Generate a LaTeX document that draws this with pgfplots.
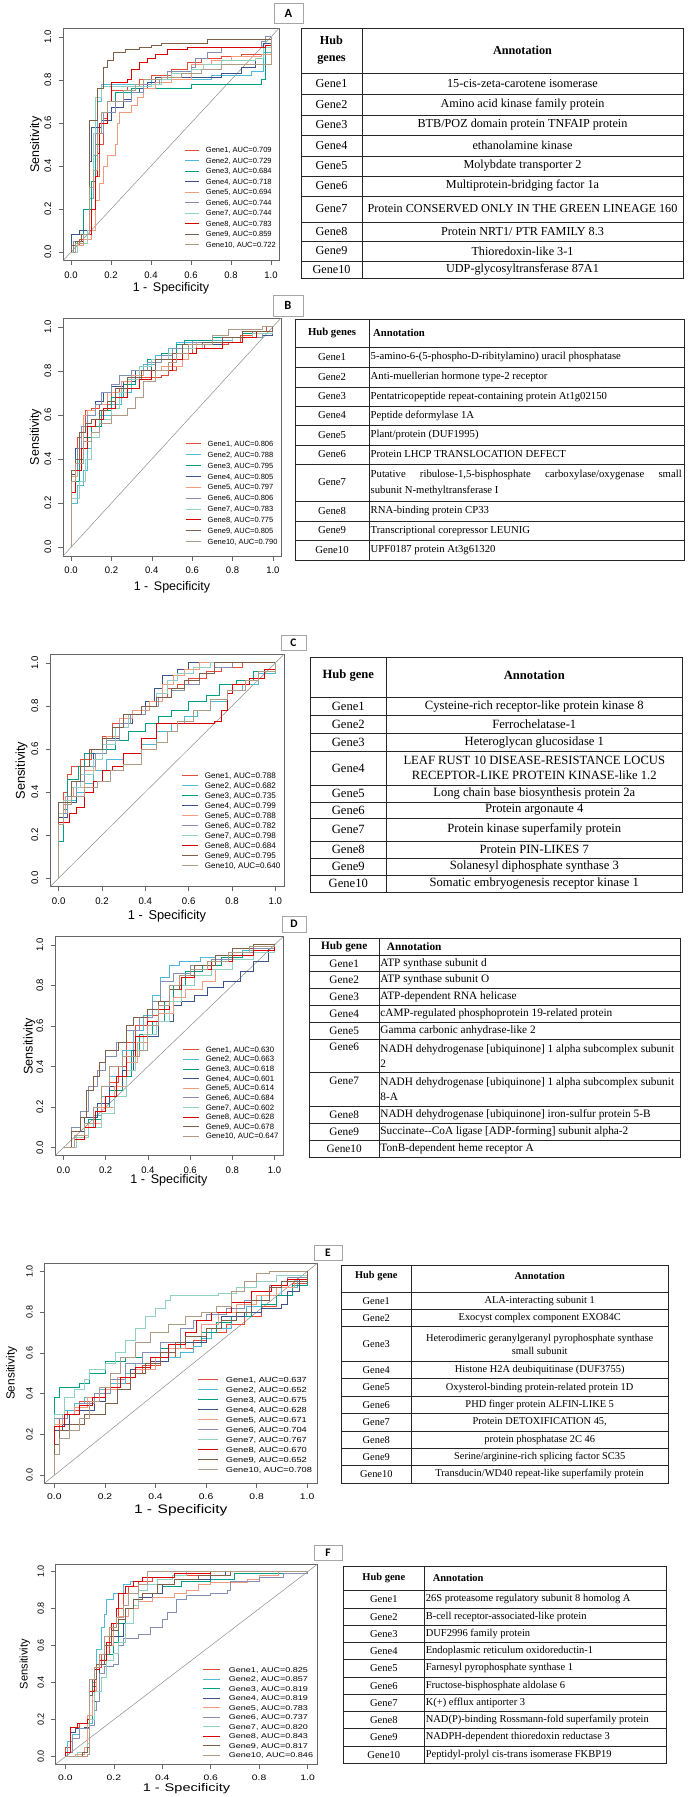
\documentclass[border=0pt]{standalone}
\usepackage{fontspec}
\setmainfont{Liberation Serif}
\newfontfamily\arialf{Liberation Sans}
\newfontfamily\arialE[FakeStretch=1.25]{Liberation Sans}
\newfontfamily\arialF[FakeStretch=1.31]{Liberation Sans}
\newfontfamily\calib{Carlito}
\usepackage{pgfplots}
\pgfplotsset{compat=1.18}
\definecolor{g1}{HTML}{E64B35}
\definecolor{g2}{HTML}{4DBBD5}
\definecolor{g3}{HTML}{00A087}
\definecolor{g4}{HTML}{3C5488}
\definecolor{g5}{HTML}{F39B7F}
\definecolor{g6}{HTML}{8491B4}
\definecolor{g7}{HTML}{91D1C2}
\definecolor{g8}{HTML}{DC0000}
\definecolor{g9}{HTML}{7E6148}
\definecolor{g10}{HTML}{B09C85}
\pgfplotsset{
 rocbase/.style={
  scale only axis, anchor=north west,
  xmin=-0.04, xmax=1.04, ymin=-0.04, ymax=1.04,
  xtick={0,0.2,0.4,0.6,0.8,1}, ytick={0,0.2,0.4,0.6,0.8,1},
  tick align=outside, tick pos=left, major tick length=4.5pt,
  axis line style={black!60, line width=0.7pt},
  tick style={black!60, line width=0.6pt},
  /pgf/number format/fixed, /pgf/number format/fixed zerofill,
  /pgf/number format/precision=1, /pgf/number format/assume math mode=true,
  xticklabel={\pgfmathprintnumber{\tick}}, yticklabel={\pgfmathprintnumber{\tick}},
  tick label style={inner sep=0pt},
  y tick label style={rotate=90},
  xticklabel shift=6pt, yticklabel shift=7pt,
  xlabel={1 -\hspace{0.45em}Specificity}, ylabel={Sensitivity},
  legend cell align=left,
  every axis plot/.append style={line width=0.9pt, const plot},
 },
 labpos/.style 2 args={ylabel style={at={(axis description cs:#1,0.5)}, anchor=center},
   xlabel style={at={(axis description cs:0.5,#2)}, anchor=center}},
 leg/.style n args={7}{
   legend style={at={(axis description cs:#2,#3)}, anchor=north west, draw=none, fill=none,
     inner sep=0pt, outer sep=0pt, row sep=#4pt, column sep=#6pt,
     font=#7\fontsize{#1}{#1}\selectfont,
     nodes={inner sep=0pt, text height=0.72em, text depth=0.2em}},
   legend image code/.code={\draw[##1] (0pt,0pt) -- (#5pt,0pt);},
 },
}
\tikzset{tbl/.style={draw=black!85, line width=0.8pt},
  labbox/.style={draw=black!35, line width=1pt, fill=white, inner sep=0pt}}
\newcommand\trow[4]{\node[cellA] at (\ca,{(#1+#2)/2}) {#3};\node[cellB] at (\cb,{(#1+#2)/2}) {#4};}
\newcommand\diag{\addplot[black!45, line width=0.5pt, sharp plot, forget plot] coordinates {(-0.04,-0.04) (1.04,1.04)};}
\begin{document}
\begin{tikzpicture}[x=1pt,y=-1pt]
\path[use as bounding box] (0,0) rectangle (688,1797);

% ================= PANEL A =================
\begin{axis}[rocbase, at={(63pt,-28.3pt)}, width=216pt, height=232.4pt,
  tick label style={font=\arialf\fontsize{9.5}{10}\selectfont},
  label style={font=\arialf\fontsize{12.5}{14}\selectfont},
  labpos={-0.125}{-0.1175},
  leg={7.5}{0.565}{0.4955}{1.3}{14}{6}{\arialf}]
\diag
\addplot[g1] coordinates {(0,0)(0.01,0.03)(0.04,0.06)(0.08,0.1)(0.1,0.2)(0.12,0.35)(0.14,0.5)(0.16,0.62)(0.18,0.7)(0.2,0.75)(0.28,0.77)(0.34,0.8)(0.4,0.82)(0.5,0.85)(0.58,0.88)(0.65,0.9)(0.75,0.91)(0.85,0.92)(0.97,0.95)(1,1)};
\addlegendentry{Gene1, AUC=0.709}
\addplot[g2] coordinates {(0,0)(0,0.08)(0.06,0.1)(0.09,0.25)(0.11,0.45)(0.13,0.7)(0.15,0.78)(0.4,0.8)(0.7,0.82)(0.9,0.84)(0.96,0.93)(1,1)};
\addlegendentry{Gene2, AUC=0.729}
\addplot[g3] coordinates {(0,0)(0.03,0.05)(0.06,0.2)(0.1,0.33)(0.12,0.5)(0.14,0.6)(0.18,0.7)(0.22,0.74)(0.3,0.76)(0.6,0.78)(0.95,0.8)(0.97,0.95)(1,1)};
\addlegendentry{Gene3, AUC=0.684}
\addplot[g4] coordinates {(0,0)(0,0.08)(0.04,0.1)(0.09,0.42)(0.1,0.58)(0.15,0.61)(0.2,0.67)(0.26,0.71)(0.3,0.74)(0.34,0.76)(0.38,0.79)(0.42,0.81)(0.75,0.83)(0.85,0.86)(0.92,0.9)(0.96,0.97)(1,1)};
\addlegendentry{Gene4, AUC=0.718}
\addplot[g5] coordinates {(0,0)(0.02,0.03)(0.06,0.06)(0.1,0.1)(0.12,0.24)(0.14,0.32)(0.16,0.4)(0.18,0.45)(0.22,0.5)(0.23,0.6)(0.24,0.65)(0.3,0.68)(0.33,0.72)(0.36,0.76)(0.42,0.79)(0.5,0.8)(0.6,0.87)(0.7,0.89)(0.8,0.91)(0.95,0.92)(1,1)};
\addlegendentry{Gene5, AUC=0.694}
\addplot[g6] coordinates {(0,0)(0.01,0.05)(0.05,0.08)(0.09,0.3)(0.11,0.45)(0.12,0.55)(0.16,0.65)(0.22,0.7)(0.3,0.74)(0.36,0.78)(0.44,0.8)(0.48,0.84)(0.6,0.86)(0.62,0.9)(0.68,0.93)(0.75,0.95)(0.95,0.98)(0.97,1)(1,1)};
\addlegendentry{Gene6, AUC=0.744}
\addplot[g7] coordinates {(0,0)(0.03,0.04)(0.08,0.1)(0.09,0.3)(0.11,0.55)(0.12,0.72)(0.15,0.77)(0.4,0.78)(0.45,0.8)(0.5,0.83)(0.6,0.85)(0.66,0.87)(0.75,0.89)(0.92,0.9)(0.96,0.95)(1,1)};
\addlegendentry{Gene7, AUC=0.744}
\addplot[g8] coordinates {(0,0)(0.02,0.05)(0.06,0.08)(0.1,0.2)(0.12,0.35)(0.13,0.46)(0.14,0.6)(0.18,0.7)(0.2,0.79)(0.28,0.8)(0.3,0.85)(0.34,0.88)(0.38,0.9)(0.42,0.92)(0.48,0.94)(0.58,0.95)(0.97,0.96)(1,1)};
\addlegendentry{Gene8, AUC=0.783}
\addplot[g9] coordinates {(0,0)(0,0.03)(0.02,0.05)(0.05,0.08)(0.09,0.61)(0.13,0.76)(0.16,0.86)(0.18,0.89)(0.21,0.93)(0.27,0.94)(0.34,0.95)(0.4,0.96)(0.45,0.97)(0.68,0.99)(1,1)};
\addlegendentry{Gene9, AUC=0.859}
\addplot[g10] coordinates {(0,0)(0.02,0.04)(0.06,0.08)(0.09,0.3)(0.11,0.38)(0.13,0.55)(0.15,0.65)(0.18,0.7)(0.26,0.75)(0.32,0.78)(0.36,0.8)(0.45,0.81)(0.55,0.83)(0.65,0.85)(0.75,0.87)(0.99,0.87)(1,1)};
\addlegendentry{Gene10, AUC=0.722}
\end{axis}

% ================= PANEL B =================
\begin{axis}[rocbase, at={(63pt,-318pt)}, width=218pt, height=238pt,
  tick label style={font=\arialf\fontsize{9.5}{10}\selectfont},
  label style={font=\arialf\fontsize{12.5}{14}\selectfont},
  labpos={-0.125}{-0.130},
  leg={7.5}{0.560}{0.4905}{1.66}{15}{6.7}{\arialf}]
\diag
\addplot[g1] coordinates {(0,0)(0,0.3)(0.02,0.38)(0.03,0.5)(0.05,0.55)(0.07,0.62)(0.1,0.63)(0.14,0.65)(0.2,0.7)(0.24,0.72)(0.28,0.76)(0.35,0.77)(0.45,0.78)(0.48,0.8)(0.52,0.82)(0.55,0.88)(0.6,0.9)(0.66,0.92)(0.78,0.93)(0.84,0.96)(0.9,0.98)(0.97,1)(1,1)};
\addlegendentry{Gene1, AUC=0.806}
\addplot[g2] coordinates {(0,0)(0,0.2)(0.03,0.28)(0.06,0.35)(0.08,0.45)(0.1,0.52)(0.14,0.6)(0.2,0.65)(0.25,0.7)(0.3,0.78)(0.36,0.83)(0.42,0.87)(0.48,0.9)(0.52,0.93)(0.6,0.94)(0.8,0.95)(0.92,0.97)(1,1)};
\addlegendentry{Gene2, AUC=0.788}
\addplot[g3] coordinates {(0,0)(0,0.3)(0.04,0.4)(0.06,0.5)(0.1,0.55)(0.15,0.62)(0.2,0.68)(0.26,0.74)(0.32,0.8)(0.38,0.85)(0.45,0.88)(0.52,0.92)(0.56,0.94)(0.7,0.95)(0.85,0.97)(1,1)};
\addlegendentry{Gene3, AUC=0.795}
\addplot[g4] coordinates {(0,0)(0,0.33)(0.02,0.45)(0.05,0.55)(0.08,0.6)(0.12,0.66)(0.16,0.7)(0.2,0.73)(0.26,0.75)(0.32,0.8)(0.4,0.85)(0.48,0.88)(0.55,0.9)(0.62,0.92)(0.75,0.93)(0.85,0.95)(0.95,0.96)(1,1)};
\addlegendentry{Gene4, AUC=0.805}
\addplot[g5] coordinates {(0,0)(0,0.32)(0.03,0.45)(0.06,0.6)(0.08,0.62)(0.12,0.65)(0.18,0.7)(0.25,0.75)(0.3,0.78)(0.36,0.8)(0.45,0.82)(0.55,0.85)(0.58,0.88)(0.62,0.93)(0.75,0.95)(0.9,0.97)(1,1)};
\addlegendentry{Gene5, AUC=0.797}
\addplot[g6] coordinates {(0,0)(0,0.35)(0.03,0.45)(0.05,0.55)(0.08,0.6)(0.12,0.65)(0.15,0.7)(0.2,0.74)(0.24,0.78)(0.3,0.8)(0.38,0.84)(0.45,0.87)(0.5,0.9)(0.6,0.93)(0.8,0.95)(0.95,0.97)(1,1)};
\addlegendentry{Gene6, AUC=0.806}
\addplot[g7] coordinates {(0,0)(0,0.22)(0.04,0.3)(0.07,0.4)(0.1,0.5)(0.14,0.58)(0.2,0.63)(0.24,0.7)(0.28,0.76)(0.34,0.82)(0.4,0.85)(0.48,0.88)(0.55,0.9)(0.65,0.93)(0.8,0.95)(0.9,0.97)(1,1)};
\addlegendentry{Gene7, AUC=0.783}
\addplot[g8] coordinates {(0,0)(0,0.25)(0.02,0.35)(0.05,0.45)(0.08,0.55)(0.12,0.58)(0.16,0.63)(0.22,0.68)(0.28,0.72)(0.34,0.76)(0.4,0.8)(0.5,0.85)(0.55,0.88)(0.62,0.9)(0.75,0.93)(0.85,0.95)(0.92,0.98)(1,1)};
\addlegendentry{Gene8, AUC=0.775}
\addplot[g9] coordinates {(0,0)(0,0.35)(0.02,0.4)(0.04,0.52)(0.07,0.56)(0.1,0.58)(0.14,0.62)(0.18,0.66)(0.22,0.72)(0.28,0.77)(0.35,0.8)(0.42,0.85)(0.5,0.88)(0.55,0.92)(0.65,0.93)(0.75,0.95)(0.85,0.98)(1,1)};
\addlegendentry{Gene9, AUC=0.805}
\addplot[g10] coordinates {(0,0)(0,0.3)(0.02,0.38)(0.06,0.48)(0.1,0.52)(0.14,0.56)(0.2,0.6)(0.28,0.63)(0.32,0.68)(0.36,0.75)(0.42,0.8)(0.48,0.84)(0.52,0.88)(0.58,0.92)(0.7,0.96)(0.78,0.99)(0.95,1)(1,1)};
\addlegendentry{Gene10, AUC=0.790}
\end{axis}

% ================= PANEL C =================
\begin{axis}[rocbase, at={(50pt,-654.3pt)}, width=234pt, height=232.4pt,
  tick label style={font=\arialf\fontsize{9.6}{10}\selectfont},
  label style={font=\arialf\fontsize{12.8}{14}\selectfont},
  labpos={-0.122}{-0.125},
  leg={8.1}{0.564}{0.4967}{0.75}{16}{6}{\arialf}]
\diag
\addplot[g1] coordinates {(0,0)(0,0.3)(0.02,0.4)(0.04,0.48)(0.06,0.52)(0.1,0.55)(0.15,0.6)(0.2,0.66)(0.25,0.72)(0.3,0.76)(0.38,0.8)(0.45,0.84)(0.5,0.88)(0.55,0.9)(0.6,0.93)(0.68,0.96)(0.75,0.98)(0.85,1)(1,1)};
\addlegendentry{Gene1, AUC=0.788}
\addplot[g2] coordinates {(0,0)(0,0.3)(0.04,0.36)(0.08,0.4)(0.12,0.44)(0.16,0.5)(0.22,0.55)(0.3,0.58)(0.38,0.62)(0.45,0.68)(0.52,0.72)(0.58,0.75)(0.64,0.78)(0.7,0.82)(0.78,0.87)(0.85,0.9)(0.92,0.95)(1,1)};
\addlegendentry{Gene2, AUC=0.682}
\addplot[g3] coordinates {(0,0)(0,0.17)(0.02,0.32)(0.04,0.46)(0.09,0.52)(0.12,0.58)(0.2,0.6)(0.26,0.64)(0.32,0.68)(0.4,0.72)(0.46,0.75)(0.52,0.78)(0.6,0.82)(0.68,0.85)(0.74,0.9)(0.82,0.92)(0.9,0.96)(1,1)};
\addlegendentry{Gene3, AUC=0.735}
\addplot[g4] coordinates {(0,0)(0,0.28)(0.04,0.35)(0.08,0.42)(0.12,0.5)(0.16,0.58)(0.22,0.65)(0.28,0.72)(0.34,0.78)(0.4,0.82)(0.44,0.88)(0.48,0.94)(0.55,0.97)(0.6,1)(1,1)};
\addlegendentry{Gene4, AUC=0.799}
\addplot[g5] coordinates {(0,0)(0,0.3)(0.03,0.38)(0.07,0.42)(0.12,0.5)(0.17,0.58)(0.22,0.66)(0.28,0.74)(0.34,0.78)(0.42,0.82)(0.48,0.9)(0.53,0.94)(0.58,0.97)(0.65,1)(1,1)};
\addlegendentry{Gene5, AUC=0.788}
\addplot[g6] coordinates {(0,0)(0,0.3)(0.04,0.38)(0.08,0.45)(0.12,0.52)(0.17,0.58)(0.22,0.64)(0.28,0.72)(0.33,0.76)(0.4,0.8)(0.46,0.84)(0.52,0.87)(0.58,0.9)(0.65,0.95)(0.72,0.98)(0.8,1)(1,1)};
\addlegendentry{Gene6, AUC=0.782}
\addplot[g7] coordinates {(0,0)(0,0.3)(0.02,0.36)(0.06,0.42)(0.1,0.48)(0.16,0.55)(0.2,0.62)(0.26,0.7)(0.32,0.76)(0.38,0.8)(0.45,0.86)(0.5,0.92)(0.55,0.95)(0.62,0.98)(0.7,1)(1,1)};
\addlegendentry{Gene7, AUC=0.798}
\addplot[g8] coordinates {(0,0)(0,0.26)(0.05,0.3)(0.08,0.33)(0.12,0.4)(0.16,0.45)(0.2,0.5)(0.25,0.52)(0.3,0.58)(0.38,0.65)(0.45,0.72)(0.72,0.73)(0.75,0.78)(0.78,0.86)(0.8,0.9)(0.88,0.93)(0.95,0.97)(1,1)};
\addlegendentry{Gene8, AUC=0.684}
\addplot[g9] coordinates {(0,0)(0,0.35)(0.06,0.45)(0.1,0.52)(0.14,0.6)(0.2,0.65)(0.25,0.7)(0.3,0.76)(0.38,0.8)(0.45,0.84)(0.52,0.88)(0.58,0.92)(0.65,0.95)(0.72,1)(1,1)};
\addlegendentry{Gene9, AUC=0.795}
\addplot[g10] coordinates {(0,0)(0,0.25)(0.02,0.34)(0.06,0.38)(0.12,0.42)(0.18,0.45)(0.24,0.5)(0.3,0.53)(0.38,0.6)(0.45,0.63)(0.5,0.68)(0.55,0.73)(0.62,0.78)(0.7,0.83)(0.78,0.87)(0.86,0.92)(0.92,0.96)(1,1)};
\addlegendentry{Gene10, AUC=0.640}
\end{axis}

% ================= PANEL D =================
\begin{axis}[rocbase, at={(55pt,-936.7pt)}, width=228pt, height=219pt,
  tick label style={font=\arialf\fontsize{9.5}{10}\selectfont},
  label style={font=\arialf\fontsize{12.6}{14}\selectfont},
  labpos={-0.112}{-0.114},
  leg={7.8}{0.561}{0.505}{0.42}{16}{6}{\arialf}]
\diag
\addplot[g1] coordinates {(0,0)(0.05,0.05)(0.1,0.12)(0.14,0.2)(0.18,0.25)(0.22,0.32)(0.26,0.4)(0.3,0.52)(0.34,0.6)(0.4,0.65)(0.45,0.72)(0.5,0.8)(0.55,0.85)(0.62,0.9)(0.7,0.93)(0.8,0.95)(0.9,0.97)(1,1)};
\addlegendentry{Gene1, AUC=0.630}
\addplot[g2] coordinates {(0,0)(0.05,0.05)(0.1,0.1)(0.14,0.16)(0.18,0.25)(0.22,0.35)(0.28,0.48)(0.33,0.58)(0.38,0.65)(0.42,0.75)(0.46,0.84)(0.5,0.9)(0.55,0.92)(0.65,0.94)(0.72,0.95)(0.85,0.97)(1,1)};
\addlegendentry{Gene2, AUC=0.663}
\addplot[g3] coordinates {(0,0)(0.06,0.06)(0.12,0.14)(0.18,0.2)(0.22,0.28)(0.28,0.35)(0.32,0.48)(0.36,0.56)(0.42,0.62)(0.48,0.72)(0.52,0.8)(0.58,0.87)(0.66,0.9)(0.75,0.94)(0.85,0.96)(1,1)};
\addlegendentry{Gene3, AUC=0.618}
\addplot[g4] coordinates {(0,0)(0.04,0.08)(0.1,0.15)(0.16,0.22)(0.22,0.3)(0.28,0.38)(0.33,0.48)(0.38,0.55)(0.45,0.62)(0.52,0.7)(0.56,0.72)(0.62,0.75)(0.68,0.79)(0.76,0.82)(0.84,0.87)(0.9,0.92)(0.97,0.98)(1,1)};
\addlegendentry{Gene4, AUC=0.601}
\addplot[g5] coordinates {(0,0)(0.06,0.06)(0.12,0.12)(0.18,0.2)(0.24,0.3)(0.3,0.42)(0.35,0.52)(0.4,0.6)(0.45,0.66)(0.52,0.74)(0.58,0.78)(0.66,0.82)(0.72,0.88)(0.8,0.93)(0.9,0.96)(1,1)};
\addlegendentry{Gene5, AUC=0.614}
\addplot[g6] coordinates {(0,0)(0.04,0.1)(0.08,0.18)(0.12,0.3)(0.16,0.38)(0.2,0.45)(0.25,0.52)(0.3,0.58)(0.36,0.64)(0.42,0.72)(0.46,0.82)(0.52,0.86)(0.6,0.9)(0.7,0.93)(0.8,0.96)(0.9,0.98)(1,1)};
\addlegendentry{Gene6, AUC=0.684}
\addplot[g7] coordinates {(0,0)(0.06,0.05)(0.12,0.1)(0.18,0.17)(0.24,0.25)(0.3,0.38)(0.34,0.48)(0.38,0.56)(0.44,0.62)(0.5,0.72)(0.56,0.8)(0.62,0.85)(0.7,0.88)(0.8,0.93)(0.9,0.96)(1,1)};
\addlegendentry{Gene7, AUC=0.602}
\addplot[g8] coordinates {(0,0)(0.05,0.04)(0.1,0.1)(0.15,0.18)(0.2,0.25)(0.25,0.35)(0.3,0.45)(0.34,0.55)(0.4,0.62)(0.45,0.68)(0.5,0.78)(0.56,0.84)(0.62,0.88)(0.7,0.92)(0.8,0.95)(0.9,0.97)(1,1)};
\addlegendentry{Gene8, AUC=0.628}
\addplot[g9] coordinates {(0,0)(0.04,0.08)(0.08,0.15)(0.11,0.28)(0.14,0.35)(0.17,0.42)(0.2,0.48)(0.26,0.52)(0.3,0.6)(0.33,0.64)(0.4,0.68)(0.45,0.72)(0.5,0.78)(0.55,0.85)(0.62,0.9)(0.72,0.95)(0.8,0.98)(0.9,1)(1,1)};
\addlegendentry{Gene9, AUC=0.678}
\addplot[g10] coordinates {(0,0)(0.05,0.06)(0.1,0.12)(0.14,0.2)(0.18,0.3)(0.22,0.4)(0.28,0.45)(0.36,0.48)(0.4,0.6)(0.45,0.7)(0.5,0.8)(0.55,0.85)(0.6,0.88)(0.68,0.92)(0.78,0.96)(0.88,0.99)(1,1)};
\addlegendentry{Gene10, AUC=0.647}
\end{axis}

% ================= PANEL E =================
\begin{axis}[rocbase, at={(44.3pt,-1263.3pt)}, width=273pt, height=220pt,
  x tick label style={font=\arialE\fontsize{8.3}{10}\selectfont},
  y tick label style={font=\arialf\fontsize{9}{10}\selectfont},
  xlabel style={font=\arialE\fontsize{12.4}{14}\selectfont},
  ylabel style={font=\arialf\fontsize{11.8}{14}\selectfont},
  labpos={-0.12}{-0.1245},
  leg={7.4}{0.563}{0.4927}{0.79}{20}{7}{\arialE}]
\diag
\addplot[g1] coordinates {(0,0)(0,0.22)(0.02,0.28)(0.05,0.32)(0.1,0.36)(0.15,0.38)(0.2,0.42)(0.25,0.45)(0.3,0.5)(0.35,0.54)(0.42,0.58)(0.48,0.62)(0.55,0.66)(0.6,0.7)(0.68,0.74)(0.75,0.78)(0.82,0.83)(0.88,0.88)(0.94,0.94)(1,1)};
\addlegendentry{Gene1, AUC=0.637}
\addplot[g2] coordinates {(0,0)(0,0.3)(0.04,0.32)(0.08,0.35)(0.12,0.38)(0.18,0.42)(0.22,0.45)(0.28,0.5)(0.32,0.55)(0.4,0.58)(0.5,0.6)(0.55,0.63)(0.58,0.67)(0.62,0.72)(0.7,0.78)(0.76,0.83)(0.82,0.88)(0.9,0.92)(0.96,0.97)(1,1)};
\addlegendentry{Gene2, AUC=0.652}
\addplot[g3] coordinates {(0,0)(0,0.38)(0.02,0.43)(0.1,0.45)(0.14,0.5)(0.2,0.56)(0.28,0.58)(0.35,0.6)(0.42,0.62)(0.5,0.65)(0.58,0.7)(0.64,0.75)(0.7,0.78)(0.78,0.8)(0.82,0.84)(0.88,0.88)(0.94,0.93)(1,1)};
\addlegendentry{Gene3, AUC=0.675}
\addplot[g4] coordinates {(0,0)(0,0.22)(0.03,0.25)(0.06,0.3)(0.1,0.32)(0.16,0.36)(0.2,0.42)(0.25,0.48)(0.3,0.52)(0.38,0.56)(0.45,0.62)(0.52,0.65)(0.6,0.72)(0.66,0.78)(0.75,0.8)(0.82,0.82)(0.9,0.84)(0.92,0.9)(0.97,0.96)(1,1)};
\addlegendentry{Gene4, AUC=0.628}
\addplot[g5] coordinates {(0,0)(0,0.25)(0.03,0.3)(0.08,0.33)(0.13,0.38)(0.2,0.42)(0.25,0.48)(0.32,0.52)(0.4,0.58)(0.45,0.62)(0.52,0.68)(0.58,0.74)(0.65,0.8)(0.72,0.84)(0.8,0.88)(0.88,0.92)(0.95,0.96)(1,1)};
\addlegendentry{Gene5, AUC=0.671}
\addplot[g6] coordinates {(0,0)(0,0.28)(0.05,0.3)(0.1,0.35)(0.16,0.4)(0.22,0.47)(0.28,0.55)(0.35,0.6)(0.42,0.65)(0.5,0.72)(0.55,0.76)(0.6,0.79)(0.68,0.82)(0.75,0.86)(0.85,0.93)(0.92,0.97)(1,1)};
\addlegendentry{Gene6, AUC=0.704}
\addplot[g7] coordinates {(0,0)(0,0.3)(0.04,0.38)(0.08,0.42)(0.12,0.47)(0.14,0.52)(0.2,0.55)(0.24,0.6)(0.28,0.66)(0.32,0.72)(0.36,0.78)(0.4,0.82)(0.44,0.86)(0.46,0.88)(0.65,0.89)(0.72,0.92)(0.8,0.95)(0.88,0.98)(1,1)};
\addlegendentry{Gene7, AUC=0.767}
\addplot[g8] coordinates {(0,0)(0,0.24)(0.04,0.3)(0.1,0.34)(0.15,0.38)(0.2,0.43)(0.26,0.48)(0.32,0.53)(0.38,0.58)(0.45,0.64)(0.52,0.7)(0.56,0.76)(0.62,0.8)(0.7,0.85)(0.78,0.9)(0.86,0.93)(0.92,0.96)(1,1)};
\addlegendentry{Gene8, AUC=0.670}
\addplot[g9] coordinates {(0,0)(0,0.15)(0.02,0.22)(0.06,0.25)(0.12,0.3)(0.2,0.35)(0.25,0.42)(0.3,0.5)(0.36,0.55)(0.42,0.6)(0.48,0.65)(0.52,0.68)(0.6,0.72)(0.66,0.76)(0.72,0.8)(0.78,0.86)(0.85,0.92)(0.9,0.95)(1,1)};
\addlegendentry{Gene9, AUC=0.652}
\addplot[g10] coordinates {(0,0)(0,0.1)(0.02,0.18)(0.06,0.22)(0.1,0.28)(0.14,0.36)(0.18,0.43)(0.22,0.5)(0.26,0.58)(0.32,0.65)(0.38,0.7)(0.45,0.74)(0.52,0.78)(0.58,0.8)(0.64,0.83)(0.7,0.9)(0.75,0.95)(0.8,0.99)(0.85,1)(1,1)};
\addlegendentry{Gene10, AUC=0.708}
\end{axis}

% ================= PANEL F =================
\begin{axis}[rocbase, at={(55.7pt,-1564.3pt)}, width=261.6pt, height=199.7pt,
  x tick label style={font=\arialF\fontsize{7.9}{10}\selectfont},
  y tick label style={font=\arialf\fontsize{9}{10}\selectfont},
  xlabel style={font=\arialF\fontsize{11.1}{14}\selectfont},
  ylabel style={font=\arialf\fontsize{11.1}{14}\selectfont},
  labpos={-0.118}{-0.1217},
  leg={6.9}{0.563}{0.4952}{0.28}{17}{8}{\arialF}]
\diag
\addplot[g1] coordinates {(0,0)(0,0.05)(0.02,0.16)(0.06,0.18)(0.1,0.22)(0.11,0.4)(0.13,0.48)(0.15,0.55)(0.18,0.65)(0.2,0.72)(0.22,0.8)(0.24,0.88)(0.26,0.92)(0.3,0.95)(0.36,0.97)(0.45,0.98)(0.6,1)(1,1)};
\addlegendentry{Gene1, AUC=0.825}
\addplot[g2] coordinates {(0,0)(0.01,0.08)(0.03,0.12)(0.06,0.15)(0.09,0.18)(0.11,0.4)(0.13,0.58)(0.15,0.7)(0.16,0.77)(0.17,0.85)(0.2,0.88)(0.24,0.93)(0.27,0.95)(0.32,0.97)(0.44,0.98)(0.5,1)(1,1)};
\addlegendentry{Gene2, AUC=0.857}
\addplot[g3] coordinates {(0,0)(0.05,0.02)(0.08,0.05)(0.09,0.2)(0.11,0.38)(0.13,0.5)(0.17,0.55)(0.2,0.62)(0.22,0.72)(0.25,0.8)(0.28,0.85)(0.32,0.88)(0.4,0.92)(0.48,0.95)(0.6,0.96)(0.7,0.99)(1,1)};
\addlegendentry{Gene3, AUC=0.819}
\addplot[g4] coordinates {(0,0)(0,0.02)(0.02,0.13)(0.04,0.15)(0.08,0.16)(0.1,0.2)(0.12,0.3)(0.14,0.5)(0.16,0.6)(0.2,0.65)(0.24,0.72)(0.28,0.8)(0.3,0.86)(0.36,0.88)(0.4,0.93)(0.45,0.96)(0.6,0.98)(0.66,1)(1,1)};
\addlegendentry{Gene4, AUC=0.819}
\addplot[g5] coordinates {(0,0)(0.04,0.01)(0.08,0.05)(0.09,0.22)(0.11,0.36)(0.13,0.5)(0.16,0.6)(0.2,0.68)(0.22,0.76)(0.26,0.8)(0.3,0.84)(0.36,0.86)(0.45,0.88)(0.5,0.9)(0.55,0.93)(0.6,0.94)(0.75,0.96)(0.8,0.98)(0.88,1)(1,1)};
\addlegendentry{Gene5, AUC=0.783}
\addplot[g6] coordinates {(0,0)(0.01,0.02)(0.03,0.1)(0.06,0.15)(0.1,0.17)(0.12,0.25)(0.13,0.3)(0.14,0.45)(0.16,0.49)(0.2,0.5)(0.22,0.6)(0.24,0.64)(0.3,0.66)(0.35,0.7)(0.4,0.74)(0.42,0.78)(0.46,0.85)(0.5,0.87)(0.6,0.88)(0.67,0.9)(0.68,0.95)(0.8,0.97)(0.9,0.99)(1,1)};
\addlegendentry{Gene6, AUC=0.737}
\addplot[g7] coordinates {(0,0)(0.05,0.02)(0.09,0.07)(0.1,0.2)(0.12,0.35)(0.15,0.43)(0.17,0.52)(0.2,0.56)(0.22,0.62)(0.25,0.72)(0.28,0.82)(0.3,0.9)(0.34,0.93)(0.38,0.96)(0.44,0.98)(0.5,1)(1,1)};
\addlegendentry{Gene7, AUC=0.820}
\addplot[g8] coordinates {(0,0)(0,0.02)(0.02,0.16)(0.05,0.18)(0.09,0.2)(0.1,0.35)(0.12,0.47)(0.14,0.52)(0.17,0.62)(0.19,0.72)(0.21,0.8)(0.22,0.88)(0.25,0.92)(0.28,0.95)(0.32,0.97)(0.45,0.99)(0.6,1)(1,1)};
\addlegendentry{Gene8, AUC=0.843}
\addplot[g9] coordinates {(0,0)(0.07,0.02)(0.09,0.05)(0.1,0.33)(0.11,0.42)(0.13,0.5)(0.16,0.6)(0.19,0.68)(0.22,0.74)(0.25,0.8)(0.28,0.85)(0.32,0.88)(0.38,0.93)(0.45,0.96)(0.55,0.98)(0.68,1)(1,1)};
\addlegendentry{Gene9, AUC=0.817}
\addplot[g10] coordinates {(0,0)(0.09,0.01)(0.1,0.42)(0.12,0.48)(0.14,0.55)(0.16,0.65)(0.18,0.7)(0.21,0.75)(0.24,0.82)(0.26,0.88)(0.3,0.93)(0.34,1)(1,1)};
\addlegendentry{Gene10, AUC=0.846}
\end{axis}

% ================= LABEL BOXES =================
\node[labbox, minimum width=29pt, minimum height=20pt, font=\calib\bfseries\fontsize{12.5}{13}\selectfont] at (288.5,13) {A};
\node[labbox, minimum width=30pt, minimum height=21pt, font=\calib\bfseries\fontsize{12.5}{13}\selectfont] at (288,305.5) {B};
\node[labbox, minimum width=25pt, minimum height=15pt, font=\calib\bfseries\fontsize{11.5}{12}\selectfont] at (293.5,642.5) {C};
\node[labbox, minimum width=24pt, minimum height=16pt, font=\calib\bfseries\fontsize{11.5}{12}\selectfont] at (294,924) {D};
\node[labbox, minimum width=28pt, minimum height=15pt, font=\calib\bfseries\fontsize{11.5}{12}\selectfont] at (328,1252.5) {E};
\node[labbox, minimum width=28pt, minimum height=15pt, font=\calib\bfseries\fontsize{11.5}{12}\selectfont] at (328,1552.5) {F};

% ================= TABLE A =================
\def\ca{331.5}\def\cb{522.5}
\tikzset{cellA/.style={font=\fontsize{12.2}{17}\selectfont, inner sep=0pt, align=center},
         cellB/.style={font=\fontsize{12.2}{17}\selectfont, inner sep=0pt, align=center}}
\draw[tbl] (301,28) rectangle (683,278);
\draw[tbl] (362,28) -- (362,278);
\foreach \y in {73,94,115,135,156,176,196,222,241,261} \draw[tbl] (301,\y) -- (683,\y);
\trow{28}{73}{\textbf{Hub}\\\textbf{genes}}{\textbf{Annotation}}
\trow{73}{94}{Gene1}{15-cis-zeta-carotene isomerase}
\trow{94}{115}{Gene2}{Amino acid kinase family protein}
\trow{115}{135}{Gene3}{BTB/POZ domain protein TNFAIP protein}
\trow{135}{156}{Gene4}{ethanolamine kinase}
\trow{156}{176}{Gene5}{Molybdate transporter 2}
\trow{176}{196}{Gene6}{Multiprotein-bridging factor 1a}
\trow{196}{222}{Gene7}{Protein CONSERVED ONLY IN THE GREEN LINEAGE 160}
\trow{222}{241}{Gene8}{Protein NRT1/ PTR FAMILY 8.3}
\trow{241}{261}{Gene9}{Thioredoxin-like 3-1}
\trow{261}{278}{Gene10}{UDP-glycosyltransferase 87A1}

% ================= TABLE B =================
\def\ca{332}\def\cb{370.5}
\tikzset{cellA/.style={font=\fontsize{10.7}{16}\selectfont, inner sep=0pt, align=center},
         cellB/.style={font=\fontsize{10.7}{16}\selectfont, inner sep=0pt, align=left, anchor=west}}
\draw[tbl] (295,319) rectangle (684,560);
\draw[tbl] (369,319) -- (369,560);
\foreach \y in {347,367,387,406,425,445,464,501,521,540} \draw[tbl] (295,\y) -- (684,\y);
\trow{319}{347}{\textbf{Hub genes}}{\hspace*{2.5pt}\textbf{Annotation}}
\trow{347}{367}{Gene1}{5-amino-6-(5-phospho-D-ribitylamino) uracil phosphatase}
\trow{367}{387}{Gene2}{Anti-muellerian hormone type-2 receptor}
\trow{387}{406}{Gene3}{Pentatricopeptide repeat-containing protein At1g02150}
\trow{406}{425}{Gene4}{Peptide deformylase 1A}
\trow{425}{445}{Gene5}{Plant/protein (DUF1995)}
\trow{445}{464}{Gene6}{Protein LHCP TRANSLOCATION DEFECT}
\trow{464}{501}{Gene7}{\hbox to 311pt{Putative\hfill ribulose-1,5-bisphosphate\hfill carboxylase/oxygenase\hfill small}\\subunit N-methyltransferase I}
\trow{501}{521}{Gene8}{RNA-binding protein CP33}
\trow{521}{540}{Gene9}{Transcriptional corepressor LEUNIG}
\trow{540}{560}{Gene10}{UPF0187 protein At3g61320}

% ================= TABLE C =================
\def\ca{348.3}\def\cb{534.3}
\tikzset{cellA/.style={font=\fontsize{12.6}{14.5}\selectfont, inner sep=0pt, align=center},
         cellB/.style={font=\fontsize{12.6}{14.5}\selectfont, inner sep=0pt, align=center}}
\draw[tbl] (310,657) rectangle (682,892);
\draw[tbl] (386.7,657) -- (386.7,892);
\foreach \y in {697,715,733,751,785,802,818,841,858,875} \draw[tbl] (310,\y) -- (682,\y);
\trow{657}{694}{\textbf{Hub gene}}{\textbf{Annotation}}
\trow{697}{715}{Gene1}{Cysteine-rich receptor-like protein kinase 8}
\trow{715}{733}{Gene2}{Ferrochelatase-1}
\trow{733}{751}{Gene3}{Heteroglycan glucosidase 1}
\trow{751}{785}{Gene4}{LEAF RUST 10 DISEASE-RESISTANCE LOCUS\\RECEPTOR-LIKE PROTEIN KINASE-like 1.2}
\trow{785}{802}{Gene5}{Long chain base biosynthesis protein 2a}
\trow{802}{818}{Gene6}{Protein argonaute 4}
\trow{818}{841}{Gene7}{Protein kinase superfamily protein}
\trow{841}{858}{Gene8}{Protein PIN-LIKES 7}
\trow{858}{875}{Gene9}{Solanesyl diphosphate synthase 3}
\trow{875}{892}{Gene10}{Somatic embryogenesis receptor kinase 1}

% ================= TABLE D =================
\def\ca{344.2}\def\cb{380.2}
\tikzset{cellA/.style={font=\fontsize{11.3}{15}\selectfont, inner sep=0pt, align=center},
         cellB/.style={font=\fontsize{11.3}{15}\selectfont, inner sep=0pt, align=left, anchor=west}}
\draw[tbl] (309.3,938) rectangle (680.7,1157);
\draw[tbl] (379,938) -- (379,1157);
\foreach \y in {955,971.8,988.7,1005.5,1022.3,1039.2,1072.8,1106.5,1123.3,1140.2} \draw[tbl] (309.3,\y) -- (680.7,\y);
\trow{938}{955}{\textbf{Hub gene}}{\hspace*{6.5pt}\textbf{Annotation}}
\trow{955}{971.8}{Gene1}{ATP synthase subunit d}
\trow{971.8}{988.7}{Gene2}{ATP synthase subunit O}
\trow{988.7}{1005.5}{Gene3}{ATP-dependent RNA helicase}
\trow{1005.5}{1022.3}{Gene4}{cAMP-regulated phosphoprotein 19-related protein}
\trow{1022.3}{1039.2}{Gene5}{Gamma carbonic anhydrase-like 2}
\trow{1039.2}{1054}{Gene6}{}
\node[cellB] at (\cb,1056) {NADH dehydrogenase [ubiquinone] 1 alpha subcomplex subunit\\2};
\trow{1072.8}{1088}{Gene7}{}
\node[cellB] at (\cb,1089.6) {NADH dehydrogenase [ubiquinone] 1 alpha subcomplex subunit\\8-A};
\trow{1106.5}{1123.3}{Gene8}{NADH dehydrogenase [ubiquinone] iron-sulfur protein 5-B}
\trow{1123.3}{1140.2}{Gene9}{Succinate-{}-CoA ligase [ADP-forming] subunit alpha-2}
\trow{1140.2}{1157}{Gene10}{TonB-dependent heme receptor A}

% ================= TABLE E =================
\def\ca{376.3}\def\cb{539.7}
\tikzset{cellA/.style={font=\fontsize{10.4}{13}\selectfont, inner sep=0pt, align=center},
         cellB/.style={font=\fontsize{10.4}{13}\selectfont, inner sep=0pt, align=center}}
\draw[tbl] (341.7,1265) rectangle (668.3,1483);
\draw[tbl] (411,1265) -- (411,1483);
\foreach \y in {1292,1309.4,1326.7,1361.5,1378.8,1396.2,1413.5,1430.9,1448.3,1465.6} \draw[tbl] (341.7,\y) -- (668.3,\y);
\trow{1265}{1287}{\textbf{Hub gene}}{\textbf{Annotation}}
\trow{1292}{1309.4}{Gene1}{ALA-interacting subunit 1}
\trow{1309.4}{1326.7}{Gene2}{Exocyst complex component EXO84C}
\trow{1326.7}{1361.5}{Gene3}{Heterodimeric geranylgeranyl pyrophosphate synthase\\small subunit}
\trow{1361.5}{1378.8}{Gene4}{Histone H2A deubiquitinase (DUF3755)}
\trow{1378.8}{1396.2}{Gene5}{Oxysterol-binding protein-related protein 1D}
\trow{1396.2}{1413.5}{Gene6}{PHD finger protein ALFIN-LIKE 5}
\trow{1413.5}{1430.9}{Gene7}{Protein DETOXIFICATION 45,}
\trow{1430.9}{1448.3}{Gene8}{protein phosphatase 2C 46}
\trow{1448.3}{1465.6}{Gene9}{Serine/arginine-rich splicing factor SC35}
\trow{1465.6}{1483}{Gene10}{Transducin/WD40 repeat-like superfamily protein}

% ================= TABLE F =================
\def\ca{383.8}\def\cb{425.6}
\tikzset{cellA/.style={font=\fontsize{10.5}{13}\selectfont, inner sep=0pt, align=center},
         cellB/.style={font=\fontsize{10.5}{13}\selectfont, inner sep=0pt, align=left, anchor=west}}
\draw[tbl] (343.3,1566) rectangle (666.7,1763.3);
\draw[tbl] (424.3,1566) -- (424.3,1763.3);
\foreach \y in {1590.7,1608.0,1625.2,1642.5,1659.8,1677.0,1694.3,1711.5,1728.8,1746.1} \draw[tbl] (343.3,\y) -- (666.7,\y);
\trow{1566}{1590.7}{\textbf{Hub gene}}{\hspace*{7pt}\textbf{Annotation}}
\trow{1590.7}{1608.0}{Gene1}{26S proteasome regulatory subunit 8 homolog A}
\trow{1608.0}{1625.2}{Gene2}{B-cell receptor-associated-like protein}
\trow{1625.2}{1642.5}{Gene3}{DUF2996 family protein}
\trow{1642.5}{1659.8}{Gene4}{Endoplasmic reticulum oxidoreductin-1}
\trow{1659.8}{1677.0}{Gene5}{Farnesyl pyrophosphate synthase 1}
\trow{1677.0}{1694.3}{Gene6}{Fructose-bisphosphate aldolase 6}
\trow{1694.3}{1711.5}{Gene7}{K(+) efflux antiporter 3}
\trow{1711.5}{1728.8}{Gene8}{NAD(P)-binding Rossmann-fold superfamily protein}
\trow{1728.8}{1746.1}{Gene9}{NADPH-dependent thioredoxin reductase 3}
\trow{1746.1}{1763.3}{Gene10}{Peptidyl-prolyl cis-trans isomerase FKBP19}
\end{tikzpicture}
\end{document}
